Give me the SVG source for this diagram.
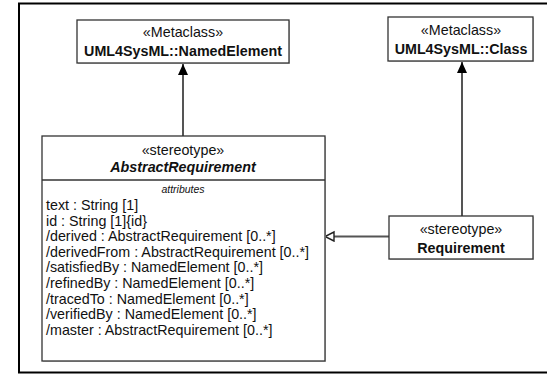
<svg xmlns="http://www.w3.org/2000/svg" width="547" height="375" viewBox="0 0 547 375">
<style>
text{font-family:"Liberation Sans",Arial,sans-serif;font-size:14.3px;fill:#111}
.c{text-anchor:middle}
.b{font-weight:bold}
.i{font-style:italic}
.s{font-size:10.5px}
.box{fill:#fff;stroke:#333;stroke-width:1.3}
.sh{fill:#ccc}
.ln{stroke:#555;stroke-width:2;fill:none}
</style>
<defs>
<marker id="fill" markerWidth="12" markerHeight="10" refX="11" refY="5" orient="auto" markerUnits="userSpaceOnUse">
<path d="M0,0 L11,5 L0,10 Z" fill="#000"/>
</marker>
<marker id="hollow" markerWidth="12" markerHeight="12" refX="10" refY="5" orient="auto" markerUnits="userSpaceOnUse">
<path d="M1,0.5 L10,5 L1,9.5 Z" fill="#fff" stroke="#222" stroke-width="1.4"/>
</marker>
</defs>
<rect x="19" y="3.5" width="560" height="369" fill="#fff" stroke="#000" stroke-width="2"/>
<g id="connectors">
<line class="ln" x1="183" y1="136" x2="183" y2="64" marker-end="url(#fill)"/>
<line class="ln" x1="462" y1="216" x2="462" y2="62" marker-end="url(#fill)"/>
<line class="ln" x1="389" y1="236.5" x2="325" y2="236.5" marker-end="url(#hollow)"/>
</g>
<g id="namedElement">
<rect class="sh" x="78" y="21" width="212" height="43"/>
<rect class="box" x="77" y="20" width="212" height="43"/>
<text class="c" x="183" y="37">«Metaclass»</text>
<text class="c b" x="183" y="56">UML4SysML::NamedElement</text>
</g>
<g id="class">
<rect class="sh" x="389" y="18" width="145" height="44"/>
<rect class="box" x="388" y="17" width="145" height="44"/>
<text class="c" x="461" y="35">«Metaclass»</text>
<text class="c b" x="461" y="54">UML4SysML::Class</text>
</g>
<g id="abstractRequirement">
<rect class="sh" x="43" y="137" width="283" height="225"/>
<rect class="box" x="42" y="136" width="283" height="225"/>
<line x1="42" y1="180" x2="325" y2="180" stroke="#333" stroke-width="1.3"/>
<text class="c" x="183" y="155">«stereotype»</text>
<text class="c b i" x="183" y="172">AbstractRequirement</text>
<text class="c i s" x="183" y="193">attributes</text>
<text x="46" y="210">text : String [1]</text>
<text x="46" y="225.6">id : String [1]{id}</text>
<text x="46" y="241.2">/derived : AbstractRequirement [0..*]</text>
<text x="46" y="256.8">/derivedFrom : AbstractRequirement [0..*]</text>
<text x="46" y="272.4">/satisfiedBy : NamedElement [0..*]</text>
<text x="46" y="288">/refinedBy : NamedElement [0..*]</text>
<text x="46" y="303.6">/tracedTo : NamedElement [0..*]</text>
<text x="46" y="319.2">/verifiedBy : NamedElement [0..*]</text>
<text x="46" y="334.8">/master : AbstractRequirement [0..*]</text>
</g>
<g id="requirement">
<rect class="sh" x="390" y="217" width="144" height="43"/>
<rect class="box" x="389" y="216" width="144" height="43"/>
<text class="c" x="461" y="234">«stereotype»</text>
<text class="c b" x="461" y="253">Requirement</text>
</g>
</svg>
